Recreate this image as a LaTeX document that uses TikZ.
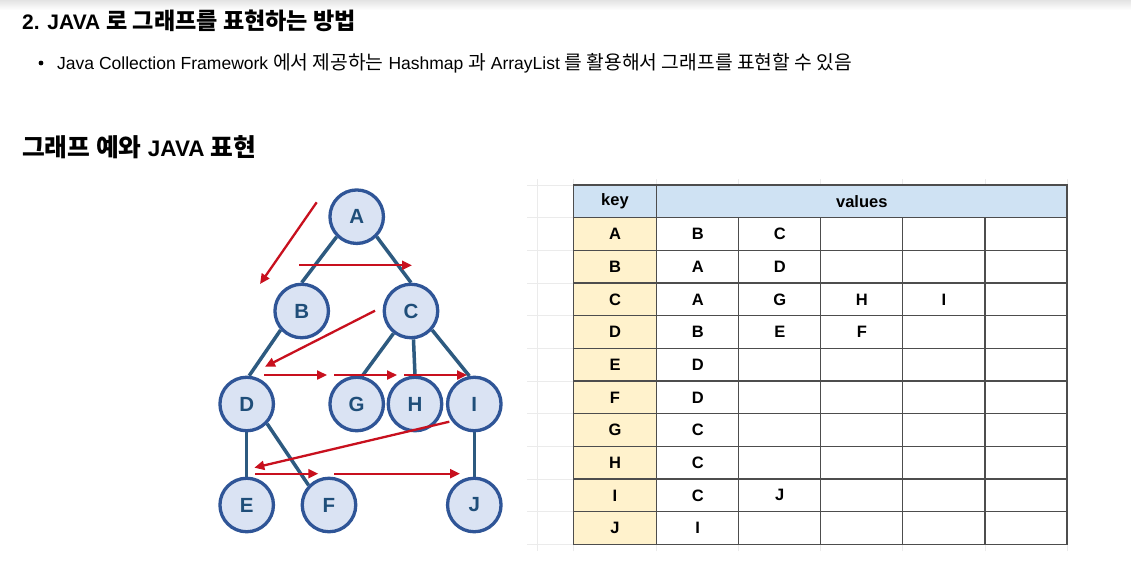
\documentclass[tikz,border=0pt]{standalone}
\usepackage{fontspec}
\setmainfont{Liberation Sans}
\newfontfamily\cjk[Scale=1.1]{Noto Sans CJK KR}
\usetikzlibrary{arrows.meta,backgrounds}
\definecolor{nodefill}{HTML}{DAE3F3}
\definecolor{nodeline}{HTML}{2F5597}
\definecolor{nodetext}{HTML}{1F4E79}
\definecolor{edgecol}{HTML}{2D5A80}
\definecolor{redarrow}{HTML}{C8101E}
\definecolor{hdrblue}{HTML}{CFE2F3}
\definecolor{keyyellow}{HTML}{FFF2CC}
\definecolor{tabline}{HTML}{4D4D4D}
\definecolor{faint}{HTML}{EBEBEB}
\tikzset{
  gnode/.style={circle, draw=nodeline, fill=nodefill, line width=3.3pt, minimum size=53.5pt, inner sep=0pt, font=\fontsize{20.5}{20.5}\selectfont\bfseries, text=nodetext},
  edgeline/.style={draw=edgecol, line width=3.5pt},
  redarr/.style={draw=redarrow, line width=2.3pt, -{Triangle[length=10pt,width=9pt]}},
  cell/.style={font=\fontsize{16.5}{16.5}\selectfont\bfseries, text=black, inner sep=0pt},
  headtext/.style={font=\fontsize{21}{21}\selectfont\bfseries, inner sep=0pt, anchor=base west},
  bodytext/.style={font=\fontsize{17.5}{17.5}\selectfont, inner sep=0pt, anchor=base west}
}
\begin{document}
\begin{tikzpicture}[x=1pt,y=-1pt]
\useasboundingbox (0,0) rectangle (1131,581);
\begin{scope}[on background layer]
\fill[white] (0,0) rectangle (1131,581);
\shade[top color=gray!22, bottom color=white] (0,0) rectangle (1131,10);
\end{scope}

% texts
\node[headtext] (h1) at (22,29) {2. JAVA {\cjk 로 그래프를 표현하는 방법}};
\fill (41,63) circle (2.4);
\node[bodytext] (b1) at (57,69) {Java Collection Framework {\cjk 에서 제공하는} Hashmap {\cjk 과} ArrayList {\cjk 를 활용해서 그래프를 표현할 수 있음}};
\node[headtext, font=\fontsize{22.5}{22.5}\selectfont\bfseries] (h2) at (22,156) {{\cjk 그래프 예와} JAVA {\cjk 표현}};

% graph nodes
\node[gnode] (A) at (356.7,216.7) {A};
\node[gnode] (B) at (301.7,311) {B};
\node[gnode] (C) at (411,311) {C};
\node[gnode] (D) at (246.7,404) {D};
\node[gnode] (G) at (356.7,404) {G};
\node[gnode] (H) at (415,404) {H};
\node[gnode] (I) at (474.3,404) {I};
\node[gnode] (E) at (246.7,505) {E};
\node[gnode] (F) at (329,505) {F};
\node[gnode] (J) at (474.3,505) {J};

% edges (behind nodes)
\begin{scope}[on background layer]
\draw[edgeline] (A.225) -- (B.90);
\draw[edgeline] (A.315) -- (C.90);
\draw[edgeline] (B.222) -- (D.85);
\draw[edgeline] (C.232) -- (G.79);
\draw[edgeline] (C.275) -- (H.90);
\draw[edgeline] (C.318) -- (I.100);
\draw[edgeline] (D.270) -- (E.90);
\draw[edgeline] (D.316) -- (F.136);
\draw[edgeline] (I.270) -- (J.90);
\end{scope}

% red traversal arrows
\coordinate (r1s) at (316.7,202.3); \coordinate (r1e) at (260,284);
\coordinate (r2s) at (299,265.3);   \coordinate (r2e) at (412,265.3);
\coordinate (r3s) at (375,310.7);   \coordinate (r3e) at (265,366.7);
\coordinate (r4s) at (264,375);     \coordinate (r4e) at (327,375);
\coordinate (r5s) at (334,375);     \coordinate (r5e) at (397,375);
\coordinate (r6s) at (404,375);     \coordinate (r6e) at (467,375);
\coordinate (r7s) at (449.3,421.7); \coordinate (r7e) at (254.3,467.7);
\coordinate (r8s) at (255,473.7);   \coordinate (r8e) at (318.3,473.7);
\coordinate (r9s) at (334.3,473.7); \coordinate (r9e) at (460,473.7);
\foreach \i in {1,...,9}{
  \draw[redarr] (r\i s) -- (r\i e);
}

% faint spreadsheet lines
\foreach \k in {0,...,11}{
  \draw[faint, line width=0.8pt] (527,{185+\k*32.67}) -- (573.3,{185+\k*32.67});
}
\draw[faint, line width=0.8pt] (537,179) -- (537,551);
\draw[faint, line width=0.8pt] (573.3,179) -- (573.3,185);
\draw[faint, line width=0.8pt] (573.3,551) -- (573.3,544.3);
\foreach \k in {0,...,5}{
  \draw[faint, line width=0.8pt] ({656.7+\k*82.06},179) -- ({656.7+\k*82.06},185);
  \draw[faint, line width=0.8pt] ({656.7+\k*82.06},551) -- ({656.7+\k*82.06},544.3);
}

% table fills
\fill[hdrblue] (573.3,185) rectangle (1067,217.7);
\fill[keyyellow] (573.3,217.7) rectangle (656.7,544.3);
% table lines
\foreach \k in {1,...,10}{
  \draw[tabline, line width=1.2pt] (573.3,{185+\k*32.67}) -- (1067,{185+\k*32.67});
}
\draw[tabline, line width=1.2pt] (656.7,185) -- (656.7,544.3);
\foreach \k in {1,...,4}{
  \draw[tabline, line width=1.2pt] ({656.7+\k*82.06},217.7) -- ({656.7+\k*82.06},544.3);
}
\draw[tabline, line width=1.4pt] (573.3,185) rectangle (1067,544.3);

% table texts
\node[cell] (tkey) at (615,201.3) {key};
\node[cell] (tval) at (861.8,201.3) {values};
\foreach \r/\key/\vals in {1/A/{B,C},2/B/{A,D},3/C/{A,G,H,I},4/D/{B,E,F},5/E/{D},6/F/{D},7/G/{C},8/H/{C},9/I/{C,J},10/J/{I}}{
  \node[cell] (k\r) at (615,{185+(\r+0.5)*32.67}) {\key};
  \foreach \v [count=\c] in \vals {
    \node[cell] (v\r-\c) at ({656.7+(\c-0.5)*82.06},{185+(\r+0.5)*32.67}) {\v};
  }
}
\end{tikzpicture}
\end{document}
